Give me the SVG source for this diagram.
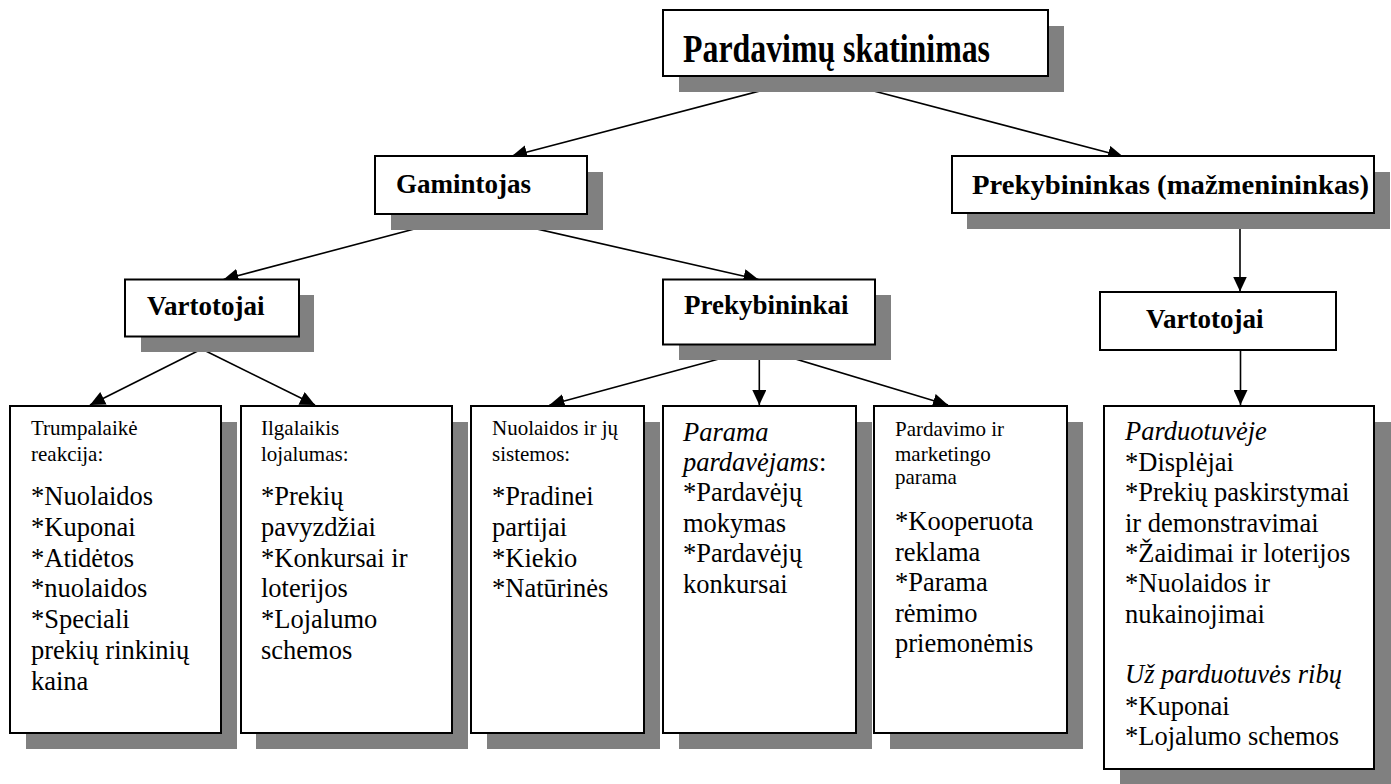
<svg xmlns="http://www.w3.org/2000/svg" width="1391" height="784" viewBox="0 0 1391 784">
  <style>
    .shadow { fill: #808080; stroke: none; }
    .box { fill: #ffffff; stroke: #000000; stroke-width: 2; }
    .link { stroke: #000000; stroke-width: 1.6; fill: none; marker-end: url(#arrow); }
    text { font-family: 'Liberation Serif', 'Times New Roman', serif; fill: #000000; }
    .head { font-weight: bold; }
    .small { font-size: 21px; }
    .big { font-size: 26.5px; }
    .it { font-style: italic; }
  </style>
  <defs>
    <marker id="arrow" markerUnits="userSpaceOnUse" markerWidth="16" markerHeight="14" refX="15" refY="7" orient="auto">
      <path d="M0,0 L15,7 L0,14 z" fill="#000"/>
    </marker>
  </defs>

  <rect width="1391" height="784" fill="#ffffff"/>

  <!-- connectors -->
  <g id="connectors">
    <line class="link" x1="816.7" y1="76" x2="512" y2="156"/>
    <line class="link" x1="816.7" y1="76" x2="1123" y2="156.5"/>
    <line class="link" x1="471" y1="214" x2="223.5" y2="279.5"/>
    <line class="link" x1="471" y1="214" x2="758.5" y2="279.5"/>
    <line class="link" x1="1240" y1="213.5" x2="1240" y2="291.5"/>
    <line class="link" x1="201.7" y1="349" x2="90" y2="405"/>
    <line class="link" x1="201.7" y1="349" x2="315" y2="405"/>
    <line class="link" x1="759.3" y1="348" x2="549.5" y2="405"/>
    <line class="link" x1="759.3" y1="348" x2="759.3" y2="405"/>
    <line class="link" x1="759.3" y1="348" x2="948" y2="405"/>
    <line class="link" x1="1240.5" y1="350" x2="1240.5" y2="405"/>
  </g>

  <g font-family="Liberation Serif, Times New Roman, serif">
  <!-- root -->
  <g id="node-root">
    <rect class="shadow" x="679" y="26" width="385" height="66"/>
    <rect class="box" x="663" y="10" width="385" height="66"/>
    <text class="head" x="683" y="62" font-size="40" textLength="307" lengthAdjust="spacingAndGlyphs">Pardavimų skatinimas</text>
  </g>

  <g id="node-gamintojas">
    <rect class="shadow" x="391" y="172" width="212" height="58"/>
    <rect class="box" x="375" y="156" width="212" height="58"/>
    <text class="head" x="396" y="193" font-size="27">Gamintojas</text>
  </g>

  <g id="node-prekybininkas">
    <rect class="shadow" x="967" y="172" width="423" height="57"/>
    <rect class="box" x="952" y="156" width="422" height="57"/>
    <text class="head" x="972" y="193.5" font-size="28" textLength="397" lengthAdjust="spacingAndGlyphs">Prekybininkas (mažmenininkas)</text>
  </g>

  <g id="node-vartotojai-g">
    <rect class="shadow" x="141" y="295" width="173" height="57"/>
    <rect class="box" x="125" y="279.5" width="174" height="57"/>
    <text class="head" x="147" y="315" font-size="27">Vartotojai</text>
  </g>

  <g id="node-prekybininkai">
    <rect class="shadow" x="679" y="295" width="212" height="65"/>
    <rect class="box" x="663" y="279.5" width="212" height="65"/>
    <text class="head" x="684" y="314" font-size="27">Prekybininkai</text>
  </g>

  <g id="node-vartotojai-p">
    <rect class="box" x="1100" y="292" width="236" height="58"/>
    <text class="head" x="1146" y="328" font-size="27">Vartotojai</text>
  </g>

  <!-- leaf boxes -->
  <g id="node-trumpalaike">
    <rect class="shadow" x="26" y="422" width="211" height="327"/>
    <rect class="box" x="10" y="406" width="211" height="327"/>
    <text class="small" x="31" y="435">Trumpalaikė</text>
    <text class="small" x="31" y="460.7">reakcija:</text>
    <text class="big" x="31" y="505">*Nuolaidos</text>
    <text class="big" x="31" y="536">*Kuponai</text>
    <text class="big" x="31" y="566.7">*Atidėtos</text>
    <text class="big" x="31" y="597">*nuolaidos</text>
    <text class="big" x="31" y="628.3">*Speciali</text>
    <text class="big" x="31" y="659.3">prekių rinkinių</text>
    <text class="big" x="31" y="690">kaina</text>
  </g>

  <g id="node-ilgalaikis">
    <rect class="shadow" x="256" y="422" width="212" height="327"/>
    <rect class="box" x="241" y="406" width="211" height="327"/>
    <text class="small" x="261" y="435">Ilgalaikis</text>
    <text class="small" x="261" y="460.7">lojalumas:</text>
    <text class="big" x="261" y="505">*Prekių</text>
    <text class="big" x="261" y="536">pavyzdžiai</text>
    <text class="big" x="261" y="566.7">*Konkursai ir</text>
    <text class="big" x="261" y="597">loterijos</text>
    <text class="big" x="261" y="628.3">*Lojalumo</text>
    <text class="big" x="261" y="659.3">schemos</text>
  </g>

  <g id="node-nuolaidos">
    <rect class="shadow" x="487" y="422" width="173" height="327"/>
    <rect class="box" x="471" y="406" width="173" height="327"/>
    <text class="small" x="492" y="435">Nuolaidos ir jų</text>
    <text class="small" x="492" y="460.7">sistemos:</text>
    <text class="big" x="492" y="505">*Pradinei</text>
    <text class="big" x="492" y="536">partijai</text>
    <text class="big" x="492" y="566.7">*Kiekio</text>
    <text class="big" x="492" y="597">*Natūrinės</text>
  </g>

  <g id="node-parama">
    <rect class="shadow" x="679" y="422" width="193" height="327"/>
    <rect class="box" x="663" y="406" width="193" height="327"/>
    <text class="big it" x="683" y="440.7">Parama</text>
    <text class="big" x="683" y="471"><tspan class="it">pardavėjams</tspan>:</text>
    <text class="big" x="683" y="501">*Pardavėjų</text>
    <text class="big" x="683" y="531.7">mokymas</text>
    <text class="big" x="683" y="562.3">*Pardavėjų</text>
    <text class="big" x="683" y="592.7">konkursai</text>
  </g>

  <g id="node-pardavimo">
    <rect class="shadow" x="890" y="422" width="193" height="327"/>
    <rect class="box" x="874" y="406" width="193" height="327"/>
    <text class="small" x="895" y="435.7">Pardavimo ir</text>
    <text class="small" x="895" y="460.7">marketingo</text>
    <text class="small" x="895" y="484">parama</text>
    <text class="big" x="895" y="530">*Kooperuota</text>
    <text class="big" x="895" y="560.7">reklama</text>
    <text class="big" x="895" y="591">*Parama</text>
    <text class="big" x="895" y="621.7">rėmimo</text>
    <text class="big" x="895" y="652.3">priemonėmis</text>
  </g>

  <g id="node-parduotuveje">
    <rect class="shadow" x="1120" y="422" width="271" height="363"/>
    <rect class="box" x="1104" y="406" width="270" height="363"/>
    <text class="big it" x="1125" y="440">Parduotuvėje</text>
    <text class="big" x="1125" y="470.7">*Displėjai</text>
    <text class="big" x="1125" y="501">*Prekių paskirstymai</text>
    <text class="big" x="1125" y="531.7">ir demonstravimai</text>
    <text class="big" x="1125" y="562.3">*Žaidimai ir loterijos</text>
    <text class="big" x="1125" y="592.3">*Nuolaidos ir</text>
    <text class="big" x="1125" y="622.7">nukainojimai</text>
    <text class="big it" x="1125" y="683.3">Už parduotuvės ribų</text>
    <text class="big" x="1125" y="715">*Kuponai</text>
    <text class="big" x="1125" y="745">*Lojalumo schemos</text>
  </g>
  </g>
</svg>
